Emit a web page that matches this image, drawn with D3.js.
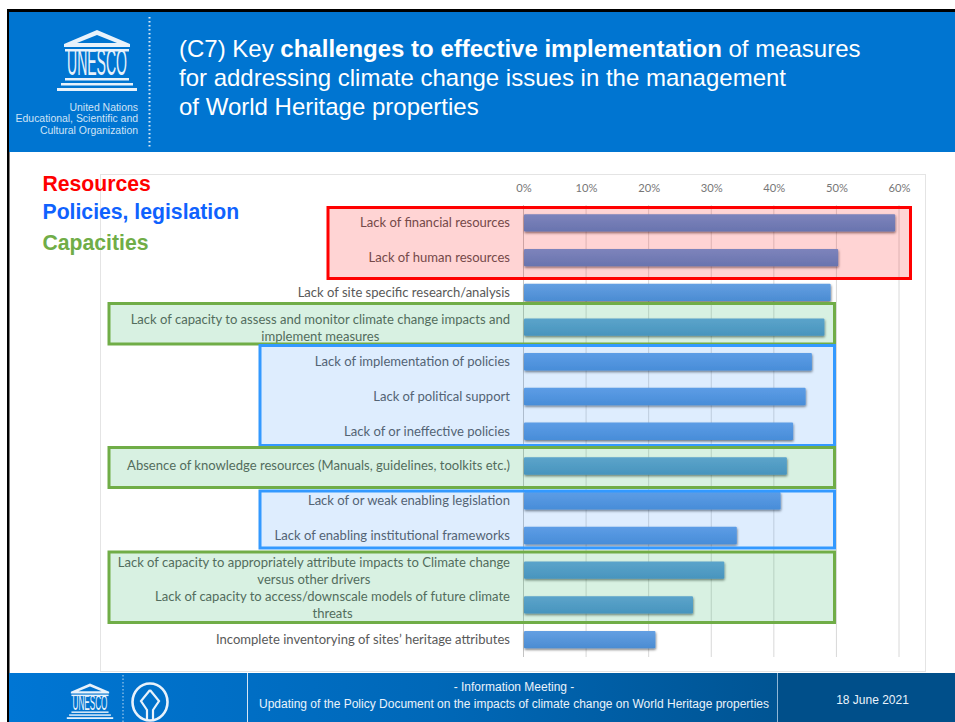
<!DOCTYPE html>
<html>
<head>
<meta charset="utf-8">
<script src="https://cdn.jsdelivr.net/npm/d3@7"></script>
<style>
  html, body { margin: 0; padding: 0; background: #fff; }
  svg { display: block; }
  .sans { font-family: "Liberation Sans", Arial, sans-serif; }
  .lbl { font-family: Lato, "Open Sans", sans-serif; font-size: 13.05px; fill: #595959; }
</style>
</head>
<body>
<script>
// Chart data
const challenges = [
    ["Lack of financial resources"],
    ["Lack of human resources"],
    ["Lack of site specific research/analysis"],
    ["Lack of capacity to assess and monitor climate change impacts and", "implement  measures"],
    ["Lack of implementation of policies"],
    ["Lack of political support"],
    ["Lack of or ineffective policies"],
    ["Absence of knowledge resources (Manuals, guidelines, toolkits etc.)"],
    ["Lack of or weak enabling legislation"],
    ["Lack of enabling institutional frameworks"],
    ["Lack of capacity to appropriately attribute impacts to Climate change", "versus other drivers"],
    ["Lack of capacity to access/downscale models of future climate", "threats"],
    ["Incomplete inventorying of sites\u2019 heritage attributes"]
];
const shares = [59.3, 50.2, 49, 48, 46, 45, 43, 42, 41, 34, 32, 27, 21];
const pctTicks = [0, 10, 20, 30, 40, 50, 60];
const legendNames = ["Resources", "Policies, legislation", "Capacities"];
const titleLine1 = [["(C7) Key\u00a0", 400], ["challenges to effective implementation", 700], ["\u00a0of measures", 400]];
const titleLine2 = "for addressing climate change issues in the management";
const titleLine3 = "of World Heritage properties";

const width = 955;
const height = 722;

const svg = d3.select("body").append("svg")
    .attr("width", width)
    .attr("height", height);

const defs = svg.append("defs");

const footGrad = defs.append("linearGradient").attr("id", "footGrad");
footGrad.append("stop").attr("offset", "0%").attr("stop-color", "#0076d4");
footGrad.append("stop").attr("offset", "45%").attr("stop-color", "#0068b8");
footGrad.append("stop").attr("offset", "100%").attr("stop-color", "#004a80");

const barGrad = defs.append("linearGradient").attr("id", "barGrad")
    .attr("x1", 0).attr("x2", 0).attr("y1", 0).attr("y2", 1);
barGrad.append("stop").attr("offset", "0%").attr("stop-color", "#649fe2");
barGrad.append("stop").attr("offset", "100%").attr("stop-color", "#4b8cd2");

const barShadow = defs.append("filter").attr("id", "barShadow")
    .attr("x", "-5%").attr("y", "-20%").attr("width", "110%").attr("height", "160%");
barShadow.append("feDropShadow")
    .attr("dx", 0.5).attr("dy", 1.5).attr("stdDeviation", 1.1)
    .attr("flood-color", "#000").attr("flood-opacity", 0.55);

// Slide frame
svg.append("rect").attr("x", 7).attr("y", 9).attr("width", 948).attr("height", 3).attr("fill", "#000");
svg.append("rect").attr("x", 7).attr("y", 9).attr("width", 2.5).attr("height", 713).attr("fill", "#000");

// Header band
svg.append("rect").attr("x", 9).attr("y", 12).attr("width", 946).attr("height", 140).attr("fill", "#0075d1");

// Title, the first line is three runs placed one after the other
const titleBlock = svg.append("g").attr("class", "sans").attr("fill", "#fff").attr("font-size", 24);
let runX = 179;
titleLine1.forEach(d => {
    const run = titleBlock.append("text").attr("x", runX).attr("y", 57)
        .attr("font-weight", d[1]).text(d[0]);
    runX += run.node().getComputedTextLength();
});
titleBlock.append("text").attr("x", 179).attr("y", 86).text(titleLine2);
titleBlock.append("text").attr("x", 179).attr("y", 115).text(titleLine3);

// UNESCO temple logo
function drawLogo(g, s) {
    const w = "#e8f2fb";
    g.append("path").attr("fill", w).attr("fill-rule", "evenodd")
        .attr("d", `M${-33*s} ${-16*s}L0 ${-30*s}L${33*s} ${-16*s}V${-13*s}H${-33*s}ZM${-20*s} ${-17*s}H${20*s}L0 ${-25*s}Z`);
    g.append("rect").attr("x", -32*s).attr("y", -11*s).attr("width", 64*s).attr("height", 2.5*s).attr("fill", w);
    g.append("text").attr("text-anchor", "middle")
        .attr("transform", `translate(0,${15*s}) scale(1,1.35)`)
        .attr("font-family", "'Liberation Sans Narrow', 'Liberation Sans', sans-serif")
        .attr("font-size", 27*s).attr("fill", w)
        .attr("textLength", 60*s).attr("lengthAdjust", "spacingAndGlyphs")
        .text("UNESCO");
    g.append("rect").attr("x", -32*s).attr("y", 18*s).attr("width", 64*s).attr("height", 2.5*s).attr("fill", w);
    g.append("rect").attr("x", -36*s).attr("y", 23*s).attr("width", 72*s).attr("height", 2.5*s).attr("fill", w);
    g.append("rect").attr("x", -40*s).attr("y", 28*s).attr("width", 80*s).attr("height", 3*s).attr("fill", w);
}
drawLogo(svg.append("g").attr("transform", "translate(97,60)"), 1);

const unLines = ["United Nations", "Educational, Scientific and", "Cultural Organization"];
svg.append("g").attr("class", "sans").attr("fill", "#cfe3f6").attr("font-size", 10.45).attr("text-anchor", "end")
    .selectAll("text").data(unLines).enter().append("text")
    .attr("x", 138).attr("y", (d, i) => 111 + i * 11.3).text(d => d);

svg.append("line").attr("x1", 149.5).attr("x2", 149.5).attr("y1", 17).attr("y2", 148)
    .attr("stroke", "#dcebf8").attr("stroke-width", 2).attr("stroke-dasharray", "1.6 2.4");

// Chart panel
svg.append("rect").attr("x", 100.5).attr("y", 174.5).attr("width", 825).attr("height", 497)
    .attr("fill", "#fff").attr("stroke", "#e4e4e4");

// Scales
const x = d3.scaleLinear().domain([0, 60]).range([523.5, 899]);
const y = d3.scaleBand()
    .domain(d3.range(challenges.length))
    .range([205.5, 657])
    .paddingInner(0.5)
    .paddingOuter(0.25);

// Axis with gridlines
const axis = d3.axisTop(x)
    .tickValues(pctTicks)
    .tickFormat(d => d + "%")
    .tickSize(0)
    .tickPadding(0);

const axisG = svg.append("g")
    .attr("transform", "translate(0,192)")
    .call(axis);
axisG.select(".domain").remove();
axisG.selectAll("text")
    .attr("font-family", "Lato, sans-serif")
    .attr("font-size", 11.2)
    .attr("fill", "#777");

svg.append("g").selectAll("line").data(pctTicks).enter().append("line")
    .attr("x1", d => x(d)).attr("x2", d => x(d))
    .attr("y1", 205).attr("y2", 657)
    .attr("stroke", d => d === 0 ? "#c4c4c4" : "#d8d8d8");

// Bars
svg.append("g").selectAll("rect").data(shares).enter().append("rect")
    .attr("x", x(0) + 0.5)
    .attr("y", (d, i) => y(i))
    .attr("width", d => x(d) - x(0))
    .attr("height", y.bandwidth())
    .attr("rx", 1)
    .attr("fill", "url(#barGrad)")
    .attr("filter", "url(#barShadow)");

// Category labels, wrapped ones sit on two lines
const labelG = svg.append("g").attr("class", "lbl");
challenges.forEach((lines, i) => {
    const cy = y(i) + y.bandwidth() / 2;
    if (lines.length === 1) {
        labelG.append("text").attr("x", 510).attr("y", cy + 4.5)
            .attr("text-anchor", "end").text(lines[0]);
    } else {
        const first = labelG.append("text").attr("x", 510).attr("y", cy - 3.5)
            .attr("text-anchor", "end").text(lines[0]);
        const w = first.node().getComputedTextLength();
        labelG.append("text").attr("x", 510 - w / 2).attr("y", cy + 13.5)
            .attr("text-anchor", "middle").text(lines[1]);
    }
});

// Highlight boxes around groups of categories
const red = "#ff0000", blue = "#3399ff", green = "#70ad47";
const boxes = [
    { x0: 328, x1: 910.5, y0: 207.5, y1: 278.5, stroke: red, fill: "rgba(255,0,0,0.17)" },
    { x0: 109, x1: 834.5, y0: 303.5, y1: 344, stroke: green, fill: "rgba(60,185,110,0.2)" },
    { x0: 260, x1: 834.5, y0: 345.5, y1: 445.5, stroke: blue, fill: "rgba(60,150,250,0.17)" },
    { x0: 109, x1: 834.5, y0: 447.5, y1: 487.5, stroke: green, fill: "rgba(60,185,110,0.2)" },
    { x0: 260, x1: 834.5, y0: 491, y1: 548, stroke: blue, fill: "rgba(60,150,250,0.17)" },
    { x0: 109, x1: 834.5, y0: 552, y1: 622.5, stroke: green, fill: "rgba(60,185,110,0.2)" }
];
svg.append("g").selectAll("rect").data(boxes).enter().append("rect")
    .attr("x", d => d.x0).attr("y", d => d.y0)
    .attr("width", d => d.x1 - d.x0).attr("height", d => d.y1 - d.y0)
    .attr("fill", d => d.fill)
    .attr("stroke", d => d.stroke)
    .attr("stroke-width", 3);

// Group legend
const legendColors = ["#ff0000", "#0f62fe", "#70ad47"];
const legendY = [191, 219, 250];
svg.append("g").attr("class", "sans").attr("font-size", 21.2).attr("font-weight", 700)
    .selectAll("text").data(legendNames).enter().append("text")
    .attr("x", 42.5).attr("y", (d, i) => legendY[i])
    .attr("fill", (d, i) => legendColors[i])
    .text(d => d);

// Footer band
svg.append("rect").attr("x", 9).attr("y", 673).attr("width", 946).attr("height", 49).attr("fill", "url(#footGrad)");
svg.append("line").attr("x1", 247.5).attr("x2", 247.5).attr("y1", 673).attr("y2", 722).attr("stroke", "#d5e6f5");
svg.append("rect").attr("x", 777).attr("y", 673).attr("width", 178).attr("height", 49).attr("fill", "#004f8a");
svg.append("line").attr("x1", 777.5).attr("x2", 777.5).attr("y1", 673).attr("y2", 722).attr("stroke", "#8fb6d6");

drawLogo(svg.append("g").attr("transform", "translate(90,701)"), 0.58);
svg.append("line").attr("x1", 123).attr("x2", 123).attr("y1", 675).attr("y2", 722)
    .attr("stroke", "#bcd9f0").attr("stroke-dasharray", "1.5 2");
svg.append("ellipse").attr("cx", 150).attr("cy", 702).attr("rx", 17.5).attr("ry", 18.5)
    .attr("fill", "none").attr("stroke", "#e8f2fb").attr("stroke-width", 2.6);
svg.append("path").attr("d", "M150 690L159 701L153 710V720M150 690L141 701L147 710V720")
    .attr("fill", "none").attr("stroke", "#e8f2fb").attr("stroke-width", 2.2);

const foot = svg.append("g").attr("class", "sans").attr("fill", "#eaf3fb").attr("font-size", 12);
foot.append("text").attr("x", 514).attr("y", 691).attr("text-anchor", "middle").text("- Information Meeting -");
foot.append("text").attr("x", 514).attr("y", 708).attr("text-anchor", "middle")
    .text("Updating of the Policy Document on the impacts of climate change on World Heritage properties");
foot.append("text").attr("x", 872.5).attr("y", 704).attr("text-anchor", "middle").text("18 June 2021");
</script>
</body>
</html>
